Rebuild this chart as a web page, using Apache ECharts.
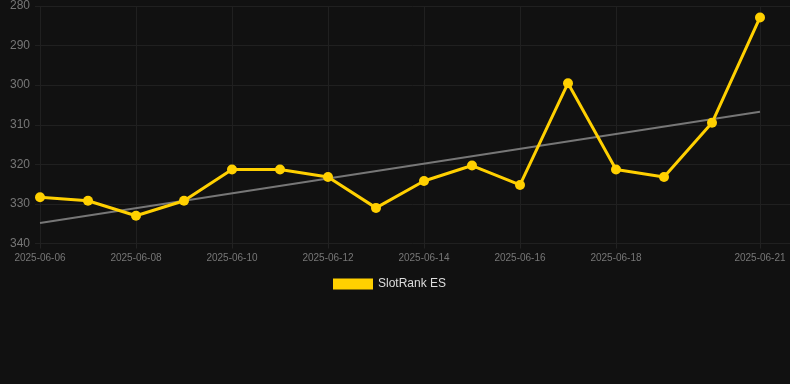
<!DOCTYPE html>
<html>
<head>
<meta charset="utf-8">
<script src="https://cdn.jsdelivr.net/npm/echarts@6/dist/echarts.min.js"></script>
<style>
html,body{margin:0;padding:0;background:#111111;}
#c{width:790px;height:384px;}
</style>
</head>
<body>
<div id="c"></div>
<script>
var categories = ['2025-06-06','2025-06-07','2025-06-08','2025-06-09','2025-06-10','2025-06-11','2025-06-12','2025-06-13','2025-06-14','2025-06-15','2025-06-16','2025-06-17','2025-06-18','2025-06-19','2025-06-20','2025-06-21'];
var rankValues = [328.3, 329.2, 333, 329.2, 321.3, 321.3, 323.2, 331, 324.2, 320.3, 325.2, 299.5, 321.3, 323.2, 309.5, 282.9];
var trendStart = 334.8;
var trendEnd = 306.7;
var yTicks = [280, 290, 300, 310, 320, 330, 340];

var trendData = categories.map(function (c, i) {
  if (i === 0) return trendStart;
  if (i === categories.length - 1) return trendEnd;
  return null;
});
var lastIdx = categories.length - 1;
function showLabel(i) { return (i % 2 === 0 && i < lastIdx - 1) || i === lastIdx; }

var chart = echarts.init(document.getElementById('c'));
chart.setOption({
  backgroundColor: '#111111',
  animation: false,
  grid: [
    { left: 40, right: 30, top: 6, bottom: 140.5 },
    { left: 35, right: 0, top: 6, bottom: 140.5 }
  ],
  legend: {
    data: ['SlotRank ES'],
    left: 328, top: 273,
    itemWidth: 40, itemHeight: 11,
    icon: 'rect',
    textStyle: { color: '#dddddd', fontSize: 12, fontFamily: 'Liberation Sans, Arial, sans-serif' }
  },
  xAxis: [
    {
      type: 'category', gridIndex: 0, data: categories, boundaryGap: false,
      axisLine: { show: false },
      axisTick: { show: true, length: 5, interval: function (i) { return showLabel(i); }, lineStyle: { color: '#222222' } },
      axisLabel: { interval: function (i) { return showLabel(i); }, color: '#777777', fontSize: 10, margin: 10, fontFamily: 'Liberation Sans, Arial, sans-serif' },
      splitLine: { show: true, interval: function (i) { return showLabel(i); }, lineStyle: { color: '#202020', width: 1 } }
    },
    { type: 'value', gridIndex: 1, show: false, min: 0, max: 1 }
  ],
  yAxis: [
    { type: 'value', gridIndex: 0, inverse: true, min: 280, max: 340, interval: 10, show: false, splitLine: { show: false } },
    {
      type: 'value', gridIndex: 1, inverse: true, min: yTicks[0], max: yTicks[yTicks.length - 1], interval: 10,
      axisLine: { show: false }, axisTick: { show: false },
      axisLabel: { color: '#777777', fontSize: 12, margin: 5, fontFamily: 'Liberation Sans, Arial, sans-serif' },
      splitLine: { show: true, lineStyle: { color: '#202020', width: 1 } }
    }
  ],
  series: [
    {
      name: 'Trend', type: 'line', xAxisIndex: 0, yAxisIndex: 0,
      data: trendData, connectNulls: true, showSymbol: false, symbol: 'none',
      lineStyle: { color: '#777777', width: 2 }, z: 2, silent: true
    },
    {
      name: 'SlotRank ES', type: 'line', xAxisIndex: 0, yAxisIndex: 0,
      data: rankValues, symbol: 'circle', symbolSize: 10, showAllSymbol: true,
      itemStyle: { color: '#FFD000' },
      lineStyle: { color: '#FFD000', width: 3 }, z: 3
    }
  ]
});
</script>
</body>
</html>
